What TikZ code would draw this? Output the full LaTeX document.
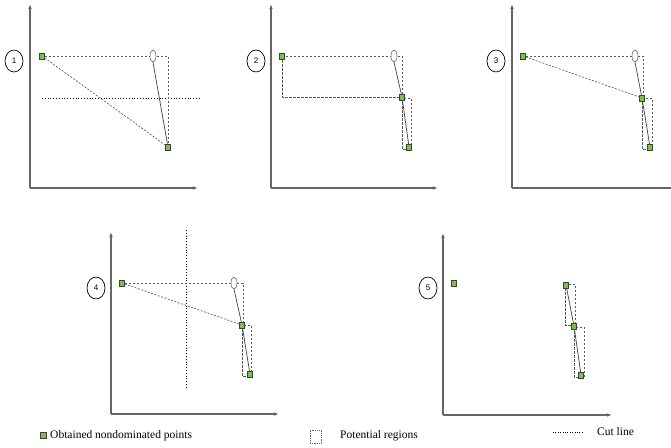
\documentclass[tikz,border=0pt]{standalone}
\usepackage{fontspec}
\setmainfont{Liberation Serif}
\setsansfont{Liberation Sans}
\usetikzlibrary{arrows.meta,shapes.geometric}
\definecolor{ptgreen}{HTML}{7CC242}
\begin{document}
\begin{tikzpicture}[x=1pt,y=-1pt,
  axis/.style={draw=black!60, line width=1.1pt, -{Stealth[length=4pt,width=3.5pt]}},
  axisnt/.style={draw=black!60, line width=1.1pt},
  pt/.style={draw=black!75, fill=ptgreen, minimum width=5pt, minimum height=6pt, inner sep=0pt, line width=0.6pt},
  oval/.style={ellipse, draw=black!60, fill=white, minimum width=6pt, minimum height=12pt, inner sep=0pt, line width=0.6pt},
  lab/.style={ellipse, draw=black, line width=0.7pt, minimum width=18pt, minimum height=22pt, inner sep=0pt, font=\sffamily\fontsize{8}{9}\selectfont},
  reg/.style={draw=black!65, line width=0.8pt, dash pattern=on 2.5pt off 1.5pt},
  diag/.style={draw=black!70, line width=0.6pt, dash pattern=on 2pt off 1.5pt},
  link/.style={draw=black!75, line width=0.7pt},
  cut/.style={draw=black, line width=0.8pt, dash pattern=on 0.8pt off 2pt},
  legtext/.style={font=\fontsize{11.5}{13}\selectfont, inner sep=0pt, anchor=west}
]
\useasboundingbox (0,0) rectangle (671,447);

% ---------- Panel 1 ----------
\coordinate (o1) at (30,188);
\coordinate (y1) at (30,5);
\coordinate (x1) at (197,188);
\draw[axis] (o1) -- (y1);
\draw[axis] (o1) -- (x1);
\node[lab] (l1) at (14,61) {1};
\coordinate (c1a) at (42,98);
\coordinate (c1b) at (200,98);
\draw[cut] (c1a) -- (c1b);
\coordinate (r1) at (168,56);
\node[pt] (a1) at (42,56) {};
\node[pt] (b1) at (168,147) {};
\draw[reg] (a1.east) -- (r1) -- (b1.north);
\draw[diag] (a1) -- (b1);
\node[oval] (e1) at (153,56) {};
\draw[link] (e1.south) -- (b1);
\node[pt] at (a1) {};
\node[pt] at (b1) {};

% ---------- Panel 2 ----------
\coordinate (o2) at (271,188);
\coordinate (y2) at (271,5);
\coordinate (x2) at (437,188);
\draw[axis] (o2) -- (y2);
\draw[axis] (o2) -- (x2);
\node[lab] (l2) at (256,61) {2};
\draw[reg] (282,56) rectangle (402,97);
\draw[reg] (402,98) rectangle (411,149);
\node[oval] (e2) at (394,56) {};
\node[pt] (a2) at (282,56) {};
\node[pt] (m2) at (402,97) {};
\node[pt] (b2) at (409,147) {};
\draw[link] (e2.south) -- (m2.center) -- (b2.center);
\node[pt] at (m2) {};
\node[pt] at (b2) {};

% ---------- Panel 3 ----------
\coordinate (o3) at (512,188);
\coordinate (y3) at (512,5);
\coordinate (x3) at (671,188);
\draw[axis] (o3) -- (y3);
\draw[axisnt] (o3) -- (x3);
\node[lab] (l3) at (496,61) {3};
\coordinate (r3) at (643,56);
\coordinate (r3b) at (643,98);
\node[pt] (a3) at (523,56) {};
\node[pt] (m3) at (642,98) {};
\node[pt] (b3) at (650,147) {};
\draw[reg] (a3.east) -- (r3) -- (r3b);
\draw[reg] (642,98) rectangle (652,149);
\draw[diag] (a3) -- (m3);
\node[oval] (e3) at (635,56) {};
\draw[link] (e3.south) -- (m3.center) -- (b3.center);
\node[pt] at (a3) {};
\node[pt] at (m3) {};
\node[pt] at (b3) {};

% ---------- Panel 4 ----------
\coordinate (o4) at (111,414);
\coordinate (y4) at (111,233);
\coordinate (x4) at (278,414);
\draw[axis] (o4) -- (y4);
\draw[axis] (o4) -- (x4);
\node[lab] (l4) at (96,288) {4};
\coordinate (c4a) at (186,230);
\coordinate (c4b) at (186,388);
\draw[cut] (c4a) -- (c4b);
\coordinate (r4) at (243,283);
\coordinate (r4b) at (243,325);
\node[pt] (a4) at (122,283) {};
\node[pt] (m4) at (242,325) {};
\node[pt] (b4) at (250,374) {};
\draw[reg] (a4.east) -- (r4) -- (r4b);
\draw[reg] (242,325) rectangle (251,376);
\draw[diag] (a4) -- (m4);
\node[oval] (e4) at (234,283) {};
\draw[link] (e4.south) -- (m4.center) -- (b4.center);
\node[pt] at (a4) {};
\node[pt] at (m4) {};
\node[pt] at (b4) {};

% ---------- Panel 5 ----------
\coordinate (o5) at (443,415);
\coordinate (y5) at (443,234);
\coordinate (x5) at (611,415);
\draw[axis] (o5) -- (y5);
\draw[axis] (o5) -- (x5);
\node[lab] (l5) at (428,288) {5};
\node[pt] (s5) at (454,283) {};
\draw[reg] (565,284) rectangle (575,325);
\draw[reg] (574,327) rectangle (584,377);
\node[pt] (p5) at (566,285) {};
\node[pt] (m5) at (574,326) {};
\node[pt] (b5) at (581,375) {};
\draw[link] (p5.center) -- (m5.center) -- (b5.center);
\node[pt] at (p5) {};
\node[pt] at (m5) {};
\node[pt] at (b5) {};

% ---------- Legend ----------
\node[pt, minimum width=6pt, minimum height=6pt] (lg1) at (43,435) {};
\node[legtext] (lt1) at (50,435.5) {Obtained nondominated points};
\node[draw=black!60, line width=0.6pt, dash pattern=on 1pt off 0.8pt, minimum width=11pt, minimum height=13pt, inner sep=0pt] (lg2) at (315.5,436.5) {};
\node[legtext] (lt2) at (340,435.5) {Potential regions};
\coordinate (lg3a) at (553,432);
\coordinate (lg3b) at (582,432);
\draw[draw=black, line width=0.6pt, dash pattern=on 0.8pt off 1.6pt] (lg3a) -- (lg3b);
\node[legtext] (lt3) at (597,432) {Cut line};
\end{tikzpicture}
\end{document}
